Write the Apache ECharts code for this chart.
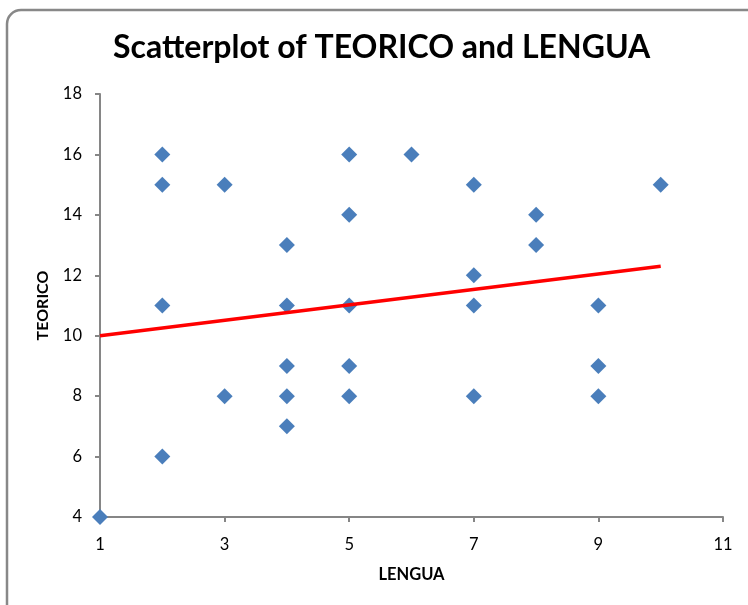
<!DOCTYPE html>
<html>
<head>
<meta charset="utf-8">
<script src="https://cdn.jsdelivr.net/npm/echarts@6/dist/echarts.min.js"></script>
<style>
  html, body { margin: 0; padding: 0; background: #fff; }
  #chart { width: 748px; height: 605px; }
</style>
</head>
<body>
<div id="chart"></div>
<script>
// LENGUA (x) and TEORICO (y) scores
const lengua  = [1, 2, 2, 2, 2, 3, 3, 4, 4, 4, 4, 4, 5, 5, 5, 5, 5, 6, 7, 7, 7, 7, 8, 8, 9, 9, 9, 10];
const teorico = [4, 16, 15, 11, 6, 15, 8, 13, 11, 9, 8, 7, 16, 14, 11, 9, 8, 16, 15, 12, 11, 8, 14, 13, 11, 9, 8, 15];

// Fitted trend line end points [LENGUA, TEORICO]
const trendLine = [[1, 10.0], [10, 12.3]];

const points = lengua.map((x, i) => [x, teorico[i]]);

const chart = echarts.init(document.getElementById('chart'));
const font = 'Lato, "Open Sans", sans-serif';
const axisGray = '#868686';

chart.setOption({
  animation: false,
  backgroundColor: '#ffffff',
  graphic: [{
    type: 'rect',
    shape: { x: 7, y: 10, width: 780, height: 640, r: 14 },
    style: { fill: 'none', stroke: '#888888', lineWidth: 2.5 },
    z: -1
  }],
  title: {
    text: 'Scatterplot of TEORICO and LENGUA',
    left: 108,
    top: 27,
    textStyle: { fontFamily: font, fontWeight: 'bold', fontSize: 32, color: '#000' }
  },
  grid: { left: 100, right: 25, top: 94, bottom: 88 },
  xAxis: {
    type: 'value',
    min: 1, max: 11, interval: 2,
    name: 'LENGUA',
    nameLocation: 'middle',
    nameGap: 49,
    nameTextStyle: { fontFamily: font, fontWeight: 'bold', fontSize: 16.5, color: '#000' },
    axisLine: { show: true, onZero: false, lineStyle: { color: axisGray, width: 2 } },
    axisTick: { show: true, inside: false, length: 5, lineStyle: { color: axisGray, width: 2 } },
    axisLabel: { fontFamily: font, fontSize: 16.5, color: '#000', margin: 19 },
    splitLine: { show: false }
  },
  yAxis: {
    type: 'value',
    min: 4, max: 18, interval: 2,
    name: 'TEORICO',
    nameLocation: 'middle',
    nameGap: 49,
    nameRotate: 90,
    nameTextStyle: { fontFamily: font, fontWeight: 'bold', fontSize: 16, color: '#000' },
    axisLine: { show: true, onZero: false, lineStyle: { color: axisGray, width: 2 } },
    axisTick: { show: true, inside: false, length: 5, lineStyle: { color: axisGray, width: 2 } },
    axisLabel: { fontFamily: font, fontSize: 16.5, color: '#000', margin: 18 },
    splitLine: { show: false }
  },
  series: [
    {
      type: 'scatter',
      data: points,
      symbol: 'diamond',
      symbolSize: [16, 16],
      itemStyle: { color: '#4a7ebb', opacity: 1 },
      z: 3
    },
    {
      type: 'line',
      data: trendLine,
      symbol: 'none',
      lineStyle: { color: '#ff0000', width: 3.5 },
      z: 4
    }
  ]
});
</script>
</body>
</html>
